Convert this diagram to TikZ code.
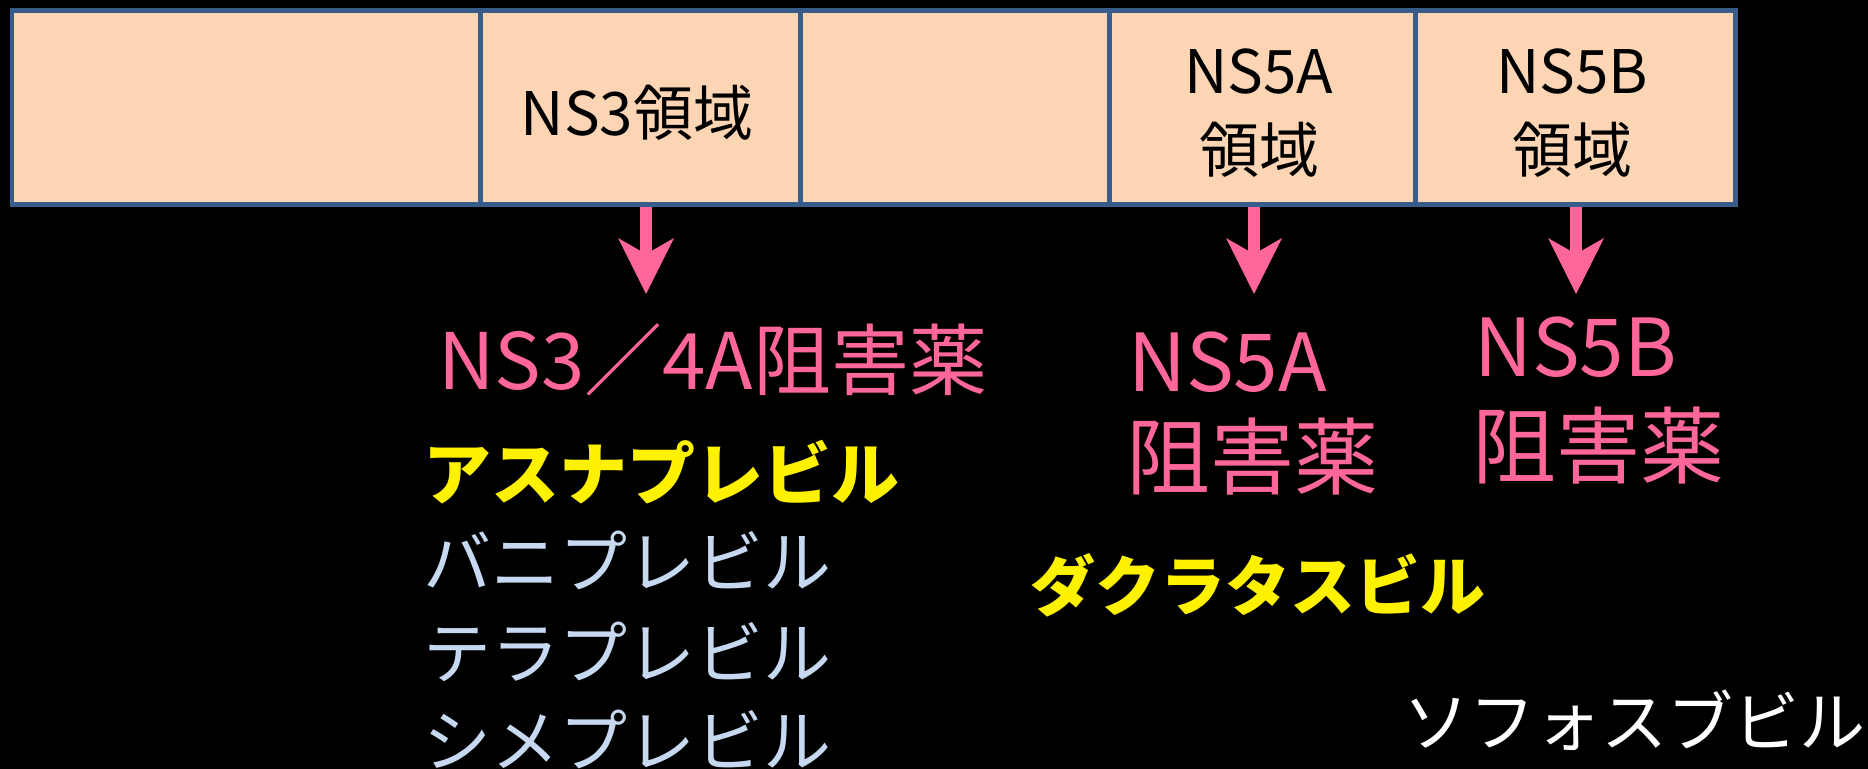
\documentclass[tikz,border=0pt]{standalone}
\usepackage{fontspec}
\newfontfamily\cjk{Noto Sans CJK JP}
\usetikzlibrary{arrows.meta}
\definecolor{peach}{HTML}{FCD5B5}
\definecolor{edge}{HTML}{385D8A}
\definecolor{hotpink}{HTML}{FF6699}
\definecolor{paleblue}{HTML}{C6D9F1}
\tikzset{
  cell/.style={draw=edge, fill=peach, line width=2.4pt, anchor=north west, minimum height=97pt, inner sep=0pt},
  celltext/.style={font=\cjk\fontsize{30}{36}\selectfont, text=black, inner sep=0pt},
  pinktext/.style={font=\cjk\fontsize{40}{48}\selectfont, text=hotpink, inner sep=0pt, anchor=west},
  hitext/.style={font=\cjk\bfseries\fontsize{34}{40}\selectfont, text=yellow, inner sep=0pt, anchor=west},
  drugtext/.style={font=\cjk\fontsize{34}{40}\selectfont, text=paleblue, inner sep=0pt, anchor=west},
  whitetext/.style={font=\cjk\fontsize{33}{40}\selectfont, text=white, inner sep=0pt, anchor=west},
  parrow/.style={draw=hotpink, line width=5.8pt, -{Stealth[length=28pt, width=28pt, inset=8pt, round, line width=0pt]}}
}
\begin{document}
\begin{tikzpicture}[x=0.5pt,y=-0.5pt]
\fill[black] (0,0) rectangle (1868,769);
\useasboundingbox (0,0) rectangle (1868,769);
% cells
\node[cell, minimum width=234.25pt] (c1) at (9.5,8) {};
\node[cell, minimum width=160pt] (c2) at (478,8) {};
\node[cell, minimum width=154.5pt] (c3) at (798,8) {};
\node[cell, minimum width=153pt] (c4) at (1107,8) {};
\node[cell, minimum width=160pt] (c5) at (1413,8) {};
% cell texts
\node[celltext] (t2) at (637,113) {NS3領域};
\node[celltext] (t4a) at (1259,72) {NS5A};
\node[celltext] (t4b) at (1259,150) {領域};
\node[celltext] (t5a) at (1572,72) {NS5B};
\node[celltext] (t5b) at (1572,150) {領域};
% arrows
\coordinate (a1) at (646,294);
\coordinate (a2) at (1254,294);
\coordinate (a3) at (1576,294);
\draw[parrow] (c2.south -| a1) -- (a1);
\draw[parrow] (c4.south -| a2) -- (a2);
\draw[parrow] (c5.south -| a3) -- (a3);
% inhibitor labels
\node[pinktext, font=\cjk\fontsize{39}{46}\selectfont] (p1) at (438,360) {NS3／4A阻害薬};
\node[pinktext] (p2a) at (1128,362) {NS5A};
\node[pinktext, font=\cjk\fontsize{42}{50}\selectfont] (p2b) at (1126,457) {阻害薬};
\node[pinktext] (p3a) at (1474,347) {NS5B};
\node[pinktext, font=\cjk\fontsize{42}{50}\selectfont] (p3b) at (1472,446) {阻害薬};
% drugs
\node[hitext] (d1) at (423,472) {アスナプレビル};
\node[drugtext] (d2) at (423,560) {バニプレビル};
\node[drugtext] (d3) at (423,652) {テラプレビル};
\node[drugtext] (d4) at (423,739) {シメプレビル};
\node[hitext, font=\cjk\bfseries\fontsize{32.5}{40}\selectfont] (d5) at (1030,585) {ダクラタスビル};
\node[whitetext] (d6) at (1403,720) {ソフォスブビル};
\end{tikzpicture}
\end{document}
